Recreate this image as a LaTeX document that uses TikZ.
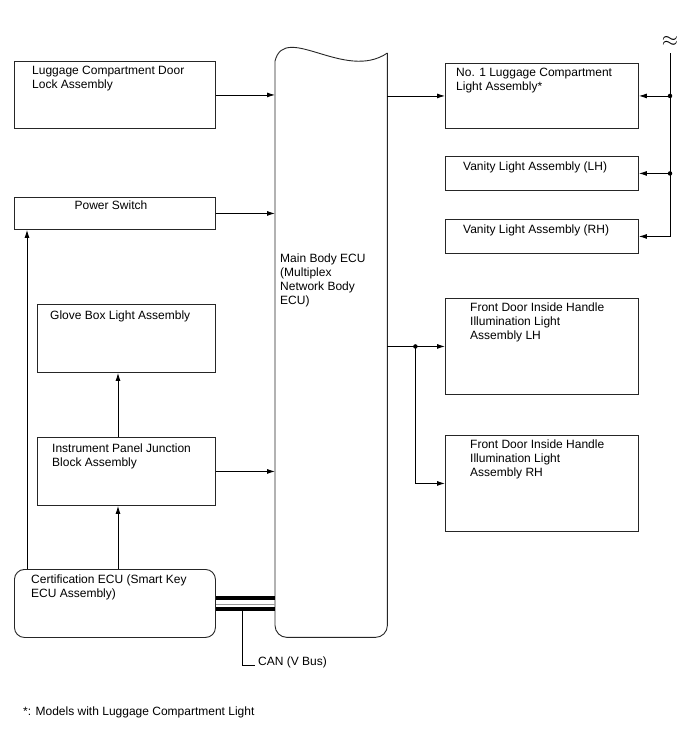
\documentclass[tikz,border=0pt]{standalone}
\usepackage{fontspec}
\setmainfont{Liberation Sans}
\usetikzlibrary{arrows.meta,positioning,calc}

\begin{document}
\begin{tikzpicture}[x=1pt,y=-1pt,
    font=\fontsize{12}{14}\selectfont,
    unit/.style={draw=black!85, line width=0.9pt, inner sep=0pt, anchor=north west},
    txt/.style={inner sep=0pt, anchor=north west, align=left},
    sig/.style={-{Latex[length=8pt,width=5pt]}, line width=0.9pt},
    jn/.style={circle, fill=black, inner sep=0pt, minimum size=4.5pt}]
  \useasboundingbox[fill=white] (0,0) rectangle (688,755);

  % left column
  \node[unit, minimum width=201pt, minimum height=67pt] (lock) at (14,61) {};
  \node[txt] (lockT) at ($(lock.north west)+(18,5)$) {Luggage Compartment Door\\Lock Assembly};
  \node[unit, minimum width=201pt, minimum height=32pt] (power) at (14,197) {};
  \node[txt, anchor=north] (powerT) at ($(power.north)+(-4,4)$) {Power Switch};
  \node[unit, minimum width=178pt, minimum height=68pt] (glove) at (37,304) {};
  \node[txt] (gloveT) at ($(glove.north west)+(13,7)$) {Glove Box Light Assembly};
  \node[unit, minimum width=178pt, minimum height=68pt] (ipjb) at (37,437) {};
  \node[txt] (ipjbT) at ($(ipjb.north west)+(15,7)$) {Instrument Panel Junction\\Block Assembly};
  \node[unit, rounded corners=10pt, minimum width=201pt, minimum height=68pt] (cert) at (14,569) {};
  \node[txt] (certT) at ($(cert.north west)+(17,6)$) {Certification ECU (Smart Key\\ECU Assembly)};

  % main body ECU
  \node[inner sep=0pt, anchor=north west, minimum width=112pt, minimum height=590pt] (ecu) at (275,47) {};
  \draw[black!85, line width=0.9pt] ($(ecu.north west)+(0,14)$)
      .. controls ($(ecu.north west)+(10,-25)$) and ($(ecu.north west)+(70,35)$) .. ($(ecu.north east)+(0,6)$);
  \draw[black!85, line width=0.9pt, rounded corners=12pt] ($(ecu.north east)+(0,6)$) -- (ecu.south east)
      -- (ecu.south west) -- ($(ecu.north west)+(0,14)$);
  \node[txt] (ecuT) at ($(ecu.north west)+(5,207)$) {Main Body ECU\\(Multiplex\\Network Body\\ECU)};

  % right column
  \node[unit, minimum width=193pt, minimum height=65pt] (no1) at (445,63) {};
  \node[txt] (no1T) at ($(no1.north west)+(11,5)$) {No. 1 Luggage Compartment\\Light Assembly*};
  \node[unit, minimum width=193pt, minimum height=34pt] (vanL) at (445,156) {};
  \node[txt] (vanLT) at ($(vanL.north west)+(18,6)$) {Vanity Light Assembly (LH)};
  \node[unit, minimum width=193pt, minimum height=34pt] (vanR) at (445,219) {};
  \node[txt] (vanRT) at ($(vanR.north west)+(18,6)$) {Vanity Light Assembly (RH)};
  \node[unit, minimum width=193pt, minimum height=96pt] (fdL) at (445,298) {};
  \node[txt] (fdLT) at ($(fdL.north west)+(25,5)$) {Front Door Inside Handle\\Illumination Light\\Assembly LH};
  \node[unit, minimum width=193pt, minimum height=96pt] (fdR) at (445,435) {};
  \node[txt] (fdRT) at ($(fdR.north west)+(25,5)$) {Front Door Inside Handle\\Illumination Light\\Assembly RH};

  % inputs to ECU
  \draw[sig] (lock.east) -- (lock.east -| ecu.west);
  \draw[sig] (power.east) -- (power.east -| ecu.west);
  \draw[sig] (ipjb.east) -- (ipjb.east -| ecu.west);

  % certification ECU outputs
  \coordinate (certA) at ($(cert.north west)+(13,0)$);
  \coordinate (certB) at ($(cert.north west)+(104,0)$);
  \draw[sig] (certA) -- (certA |- power.south);
  \draw[sig] (certB) -- (certB |- ipjb.south);
  \draw[sig] (certB |- ipjb.north) -- (certB |- glove.south);

  % CAN
  \coordinate (canA) at ($(cert.east)+(0,-5.5)$);
  \coordinate (canB) at ($(cert.east)+(0,6)$);
  \coordinate (canM) at ($(cert.east)+(0,0.5)$);
  \draw[line width=4pt] (canA) -- (canA -| ecu.west);
  \draw[line width=4pt] (canB) -- (canB -| ecu.west);
  \draw[line width=0.5pt, black!40] (canM) -- (canM -| ecu.west);
  \node[txt, anchor=west] (canT) at (258,662) {CAN (V Bus)};
  \coordinate (canTap) at ($(canB)+(27,0)$);
  \draw[line width=0.9pt] (canTap) |- ([xshift=-3pt,yshift=-3pt]canT.west);

  % ECU outputs
  \draw[sig] (no1.west -| ecu.east) -- (no1.west);
  \draw[sig] (fdL.west -| ecu.east) -- (fdL.west);
  \coordinate (split) at ($(fdL.west -| ecu.east)+(28,0)$);
  \draw[sig] (split) |- (fdR.west);
  \node[jn] (splitDot) at (split) {};

  % lamp bus on the right
  \node[inner sep=0pt, font=\fontsize{20}{20}\selectfont] (brk) at (670,41) {$\approx$};
  \coordinate (busTop) at (670,53);
  \draw[sig] (busTop) |- (vanR.east);
  \draw[sig] (no1.east -| busTop) -- (no1.east);
  \draw[sig] (vanL.east -| busTop) -- (vanL.east);
  \node[jn] (busDot1) at (no1.east -| busTop) {};
  \node[jn] (busDot2) at (vanL.east -| busTop) {};

  \node[txt] (note) at (23,707) {*: Models with Luggage Compartment Light};
\end{tikzpicture}
\end{document}
